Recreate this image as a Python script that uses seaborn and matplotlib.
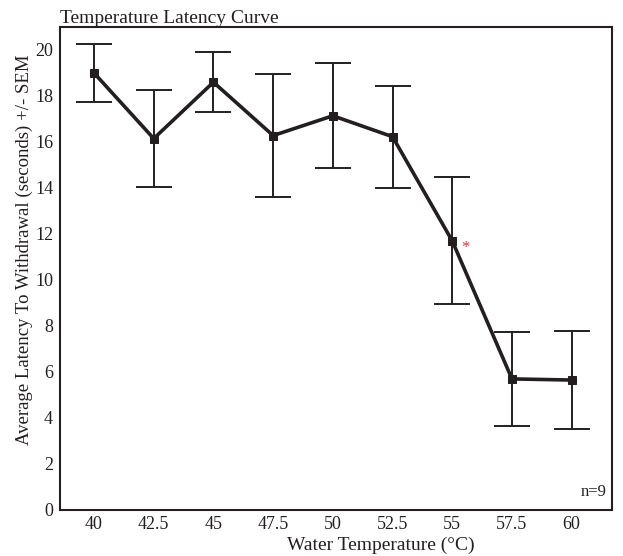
import matplotlib
matplotlib.use("Agg")
import matplotlib.pyplot as plt
import seaborn as sns
import pandas as pd

temps = [40, 42.5, 45, 47.5, 50, 52.5, 55, 57.5, 60]
tick_labels = ["40", "42.5", "45", "47.5", "50", "52.5", "55", "57.5", "60"]
latency = [19.0, 16.15, 18.6, 16.28, 17.14, 16.23, 11.70, 5.70, 5.65]
sem = [1.28, 2.12, 1.31, 2.69, 2.28, 2.22, 2.76, 2.06, 2.13]

sns.set_theme(style="white")
plt.rcParams["font.family"] = ["Liberation Serif", "DejaVu Serif"]

df = pd.DataFrame({"temp": temps, "latency": latency, "sem": sem})
ink = "#231f20"

fig = plt.figure(figsize=(6.23, 5.56), dpi=100)
ax = fig.add_axes([60 / 623, 1 - 510 / 556, (612 - 60) / 623, (510 - 27) / 556])

ax.errorbar(df["temp"], df["latency"], yerr=df["sem"], fmt="none",
            ecolor=ink, elinewidth=1.4, capsize=13, capthick=1.4, zorder=2)
sns.lineplot(data=df, x="temp", y="latency", ax=ax, color=ink, linewidth=2.6,
             marker="s", markersize=6, markeredgecolor=ink, markerfacecolor=ink,
             zorder=3)

ax.set_xlim(38.575, 61.69)
ax.set_ylim(0, 21)
ax.set_xticks(temps)
ax.set_xticklabels(tick_labels)
ax.set_yticks(range(0, 21, 2))
ax.tick_params(axis="both", length=0, labelsize=13, colors=ink)
ax.tick_params(axis="y", pad=5)
ax.tick_params(axis="x", pad=4)
for s in ax.spines.values():
    s.set_color(ink)
    s.set_linewidth(1.5)
ax.grid(False)

ax.set_xlabel("Water Temperature (°C)", fontsize=14, color=ink)
ax.set_ylabel("Average Latency To Withdrawal (seconds) +/- SEM", fontsize=13.5,
              color=ink)
ax.xaxis.set_label_coords(0.5815, -0.056)
ax.yaxis.set_label_coords(-0.049, 0.538)
ax.set_title("Temperature Latency Curve", loc="left", fontsize=14, color=ink, pad=3)

ax.text(55.55, latency[6] - 0.3, "*", color="#e8333b", fontsize=12,
        ha="center", va="center")
ax.text(0.991, 0.02, "n=9", transform=ax.transAxes, ha="right", va="bottom",
        fontsize=12, color=ink)

fig.savefig("out.png", dpi=100)
